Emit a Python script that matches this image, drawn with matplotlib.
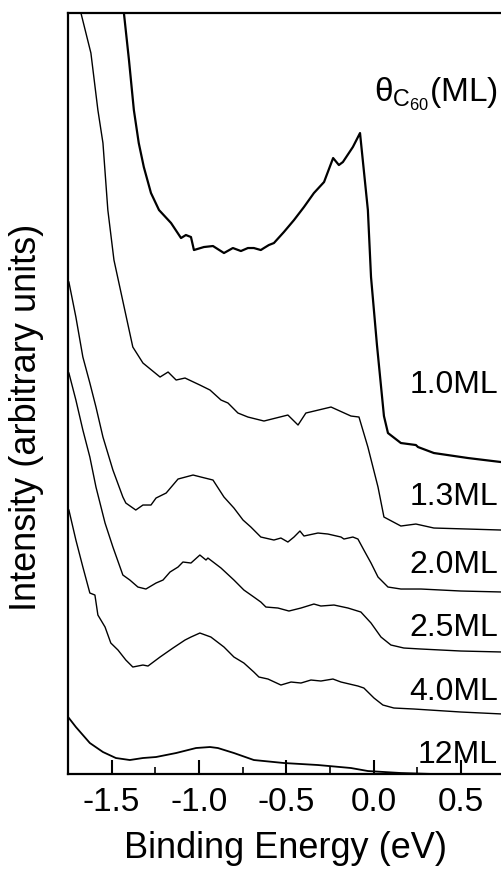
import numpy as np
import matplotlib
matplotlib.use("Agg")
import matplotlib.pyplot as plt
from matplotlib.ticker import MultipleLocator

plt.rcParams['font.family'] = ['Liberation Sans', 'DejaVu Sans']
plt.rcParams['mathtext.fontset'] = 'custom'
plt.rcParams['mathtext.rm'] = 'Liberation Sans'
plt.rcParams['mathtext.it'] = 'Liberation Sans'

# Binding energy (eV) / intensity (arb. units)
E_10 = [-1.436, -1.430, -1.401, -1.373, -1.345, -1.316, -1.275, -1.229, -1.160, -1.103,
        -1.075, -1.046, -1.029, -0.972, -0.920, -0.857, -0.806, -0.760, -0.720, -0.686,
        -0.646, -0.628, -0.600, -0.571, -0.514, -0.456, -0.399, -0.342, -0.284, -0.232,
        -0.199, -0.176, -0.119, -0.078, -0.033, -0.015, 0.019, 0.059, 0.082, 0.156,
        0.242, 0.254, 0.345, 0.540, 0.729, 0.740]
I_10 = [774, 761, 714, 664, 631, 607, 581, 564, 551, 536,
        539, 537, 524, 527, 528, 521, 526, 523, 526, 526,
        524, 526, 529, 531, 542, 554, 567, 581, 592, 616,
        609, 612, 627, 641, 564, 497, 429, 358, 341, 331,
        329, 327, 321, 316, 312, 312]

E_13 = [-1.682, -1.676, -1.619, -1.579, -1.550, -1.522, -1.487, -1.425, -1.379, -1.321,
        -1.223, -1.177, -1.131, -1.080, -0.995, -0.937, -0.874, -0.834, -0.777, -0.720,
        -0.628, -0.491, -0.433, -0.388, -0.244, -0.130, -0.084, -0.033, 0.025, 0.059,
        0.156, 0.242, 0.345, 0.729, 0.740]
I_13 = [774, 761, 721, 664, 631, 564, 514, 464, 427, 411,
        397, 402, 394, 396, 389, 384, 374, 371, 361, 357,
        353, 359, 349, 361, 367, 358, 357, 327, 287, 257,
        248, 250, 246, 244, 244]

E_20 = [-1.745, -1.705, -1.665, -1.625, -1.590, -1.550, -1.493, -1.436, -1.419, -1.362,
        -1.321, -1.275, -1.246, -1.188, -1.120, -1.034, -0.989, -0.920, -0.857, -0.800,
        -0.748, -0.703, -0.646, -0.571, -0.531, -0.491, -0.456, -0.422, -0.399, -0.319,
        -0.262, -0.187, -0.170, -0.119, -0.090, -0.056, -0.015, 0.025, 0.082, 0.156,
        0.271, 0.500, 0.740]
I_20 = [492, 457, 417, 391, 367, 337, 304, 277, 271, 264,
        269, 269, 276, 281, 295, 299, 297, 294, 277, 266,
        254, 247, 237, 234, 236, 232, 237, 243, 238, 241,
        240, 237, 235, 237, 235, 224, 211, 197, 187, 185,
        185, 183, 182]

E_25 = [-1.745, -1.705, -1.665, -1.625, -1.590, -1.538, -1.493, -1.436, -1.396, -1.350,
        -1.304, -1.246, -1.206, -1.166, -1.120, -1.092, -1.046, -0.995, -0.960, -0.949,
        -0.874, -0.800, -0.743, -0.686, -0.646, -0.617, -0.548, -0.485, -0.416, -0.342,
        -0.302, -0.227, -0.147, -0.073, -0.015, 0.042, 0.099, 0.173, 0.271, 0.500, 0.740]
I_25 = [401, 374, 344, 317, 287, 251, 227, 199, 194, 187,
        185, 191, 194, 202, 207, 212, 211, 219, 214, 216,
        206, 194, 184, 177, 172, 167, 166, 163, 166, 170,
        168, 169, 166, 162, 151, 137, 129, 126, 125, 123, 122]

E_40 = [-1.745, -1.705, -1.665, -1.625, -1.596, -1.579, -1.538, -1.505, -1.464, -1.419,
        -1.379, -1.321, -1.292, -1.223, -1.149, -1.080, -1.046, -0.995, -0.932, -0.857,
        -0.800, -0.743, -0.686, -0.657, -0.605, -0.531, -0.473, -0.416, -0.359, -0.302,
        -0.233, -0.187, -0.090, -0.056, 0.002, 0.053, 0.116, 0.231, 0.500, 0.740]
I_40 = [264, 234, 207, 181, 179, 159, 147, 131, 124, 114,
        107, 109, 108, 117, 126, 134, 137, 141, 137, 127,
        117, 111, 102, 97, 95, 89, 92, 91, 94, 93,
        95, 92, 88, 86, 76, 69, 66, 65, 62, 60]

E_12 = [-1.745, -1.705, -1.625, -1.550, -1.476, -1.396, -1.321, -1.246, -1.131, -1.017,
        -0.937, -0.892, -0.800, -0.686, -0.514, -0.319, -0.130, -0.033, 0.156, 0.345, 0.740]
I_12 = [56, 47, 31, 22, 16, 14, 16, 17, 21, 26,
        27, 26, 21, 14, 11, 9, 6, 3, 1, 0, 0]

labels = ['1.0ML', '1.3ML', '2.0ML', '2.5ML', '4.0ML', '12ML']
label_y = [389, 277, 209, 146, 82, 19]

fig = plt.figure(figsize=(5.02, 8.69), dpi=100)
ax = fig.add_axes([0.1355, 0.1093, 0.8645, 0.8757])

ax.plot(E_10, I_10, color='black', lw=1.6)
ax.plot(E_13, I_13, color='black', lw=1.0)
ax.plot(E_20, I_20, color='black', lw=1.0)
ax.plot(E_25, I_25, color='black', lw=1.0)
ax.plot(E_40, I_40, color='black', lw=1.0)
ax.plot(E_12, I_12, color='black', lw=1.3)

for lab, yy in zip(labels, label_y):
    ax.text(0.712, yy, lab, ha='right', va='center', fontsize=23)
ax.text(0.712, 680, r'$\theta_{\mathrm{C}_{60}}$(ML)', ha='right', va='center', fontsize=24)

ax.set_xlim(-1.75, 0.735)
ax.set_ylim(0, 761)
ax.xaxis.set_minor_locator(MultipleLocator(0.25))
ax.set_xticks([-1.5, -1.0, -0.5, 0.0, 0.5])
ax.set_xticklabels(['-1.5', '-1.0', '-0.5', '0.0', '0.5'])
ax.set_yticks([])
ax.tick_params(axis='x', which='major', direction='in', length=10, width=1.5,
               labelsize=24, pad=9, top=False)
ax.tick_params(axis='x', which='minor', direction='in', length=5, width=1.2, top=False)
for s in ['left', 'top', 'bottom']:
    ax.spines[s].set_linewidth(1.6)
ax.spines['right'].set_visible(False)

ax.set_xlabel('Binding Energy (eV)', fontsize=26, labelpad=10)
ax.set_ylabel('Intensity (arbitrary units)', fontsize=26)
ax.yaxis.set_label_coords(-0.056, 0.469)

fig.savefig('out.png', dpi=100)
